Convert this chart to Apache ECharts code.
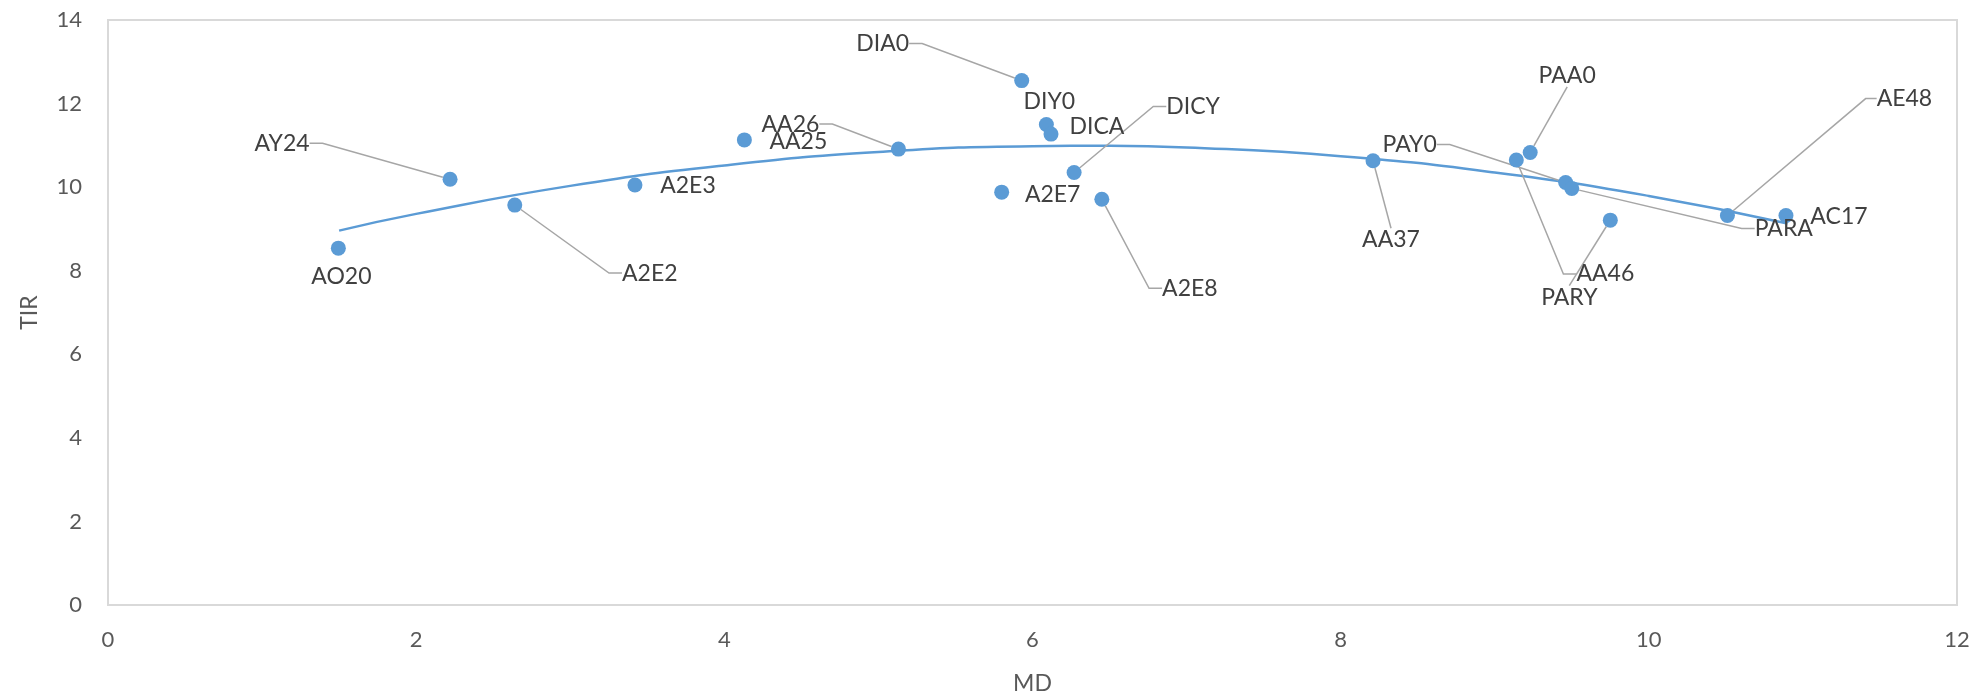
<!DOCTYPE html>
<html>
<head>
<meta charset="utf-8">
<script src="https://cdn.jsdelivr.net/npm/echarts@6/dist/echarts.min.js"></script>
<style>
html,body{margin:0;padding:0;background:#fff;}
#chart{width:1977px;height:700px;}
</style>
</head>
<body>
<div id="chart"></div>
<script>
// ---- data ----
var names = ['AO20','AY24','A2E2','A2E3','AA25','AA26','A2E7','DIA0','DIY0','DICA','DICY','A2E8','AA37','AA46','PAA0','PAY0','PARA','PARY','AE48','AC17'];
var mdValues = [1.495, 2.22, 2.64, 3.42, 4.13, 5.13, 5.80, 5.93, 6.09, 6.12, 6.27, 6.45, 8.21, 9.14, 9.23, 9.46, 9.50, 9.75, 10.51, 10.89];
var tirValues = [8.54, 10.19, 9.57, 10.05, 11.13, 10.91, 9.88, 12.55, 11.50, 11.27, 10.35, 9.71, 10.63, 10.65, 10.83, 10.11, 9.97, 9.21, 9.32, 9.32];
// trend line (polynomial, as drawn in the reference) read at these MD values
var trendX = [1.5, 2, 3, 4, 5, 6, 6.5, 7, 8, 9, 10, 10.9];
var trendY = [8.96, 9.36, 10.03, 10.52, 10.84, 10.98, 10.99, 10.95, 10.74, 10.35, 9.79, 9.13];
var xTicks = [0, 2, 4, 6, 8, 10, 12];
var yTicks = [0, 2, 4, 6, 8, 10, 12, 14];

// ---- label placement (pixels from the point centre), leader elbow length ----
var labelOffsets = [
  [3, 28], [-168, -36], [135, 68], [53, 1], [54, 2], [-108, -25], [51, 2], [-139, -37],
  [3, -23], [46, -7], [119, -66], [88, 89], [18, 79], [89, 114], [37, -77], [-156, -38],
  [212, 40], [-41, 77], [177, -117], [53, 1]
];
var leaderElbow = [
  null, 13, 13, null, null, 13, null, 13,
  null, null, 13, 13, 0, 13, 0, 13,
  13, 0, 11, null
];

var FONT = 'Lato';
var scatterData = names.map(function (n, i) {
  var item = { name: n, value: [mdValues[i], tirValues[i]] };
  if (leaderElbow[i] !== null) {
    item.labelLine = { show: true, length2: leaderElbow[i] };
  } else {
    item.labelLine = { show: false };
  }
  return item;
});
var trendData = trendX.map(function (x, i) { return [x, trendY[i]]; });

var chart = echarts.init(document.getElementById('chart'), null, { renderer: 'canvas' });
chart.setOption({
  backgroundColor: '#ffffff',
  animation: false,
  grid: {
    left: 108, right: 20, top: 20, bottom: 95,
    show: true, borderColor: '#d9d9d9', borderWidth: 2, containLabel: false
  },
  xAxis: {
    type: 'value', min: xTicks[0], max: xTicks[xTicks.length - 1], interval: 2,
    name: 'MD', nameLocation: 'middle', nameGap: 67,
    nameTextStyle: { fontFamily: FONT, fontSize: 23, color: '#595959', lineHeight: 23 },
    axisLine: { show: false }, axisTick: { show: false }, splitLine: { show: false },
    axisLabel: { margin: 24, fontFamily: FONT, fontSize: 22, color: '#595959', lineHeight: 22 }
  },
  yAxis: {
    type: 'value', min: yTicks[0], max: yTicks[yTicks.length - 1], interval: 2,
    name: 'TIR', nameLocation: 'middle', nameGap: 67,
    nameTextStyle: { fontFamily: FONT, fontSize: 23, color: '#595959', lineHeight: 23 },
    axisLine: { show: false }, axisTick: { show: false }, splitLine: { show: false },
    axisLabel: { margin: 26, fontFamily: FONT, fontSize: 22, color: '#595959' }
  },
  series: [
    {
      type: 'line', data: trendData, smooth: true, showSymbol: false, silent: true,
      lineStyle: { color: '#5b9bd5', width: 2.5 }, z: 2
    },
    {
      type: 'scatter', data: scatterData, symbol: 'circle', symbolSize: 15, z: 3,
      itemStyle: { color: '#5b9bd5', opacity: 1 },
      label: {
        show: true, position: 'inside', formatter: '{b}',
        fontFamily: FONT, fontSize: 23, color: '#404040'
      },
      labelLine: { show: true, length2: 13, lineStyle: { color: '#a6a6a6', width: 1.5 } },
      labelLayout: function (params) {
        var o = labelOffsets[params.dataIndex];
        return { dx: o[0], dy: o[1] };
      }
    }
  ]
});
</script>
</body>
</html>
